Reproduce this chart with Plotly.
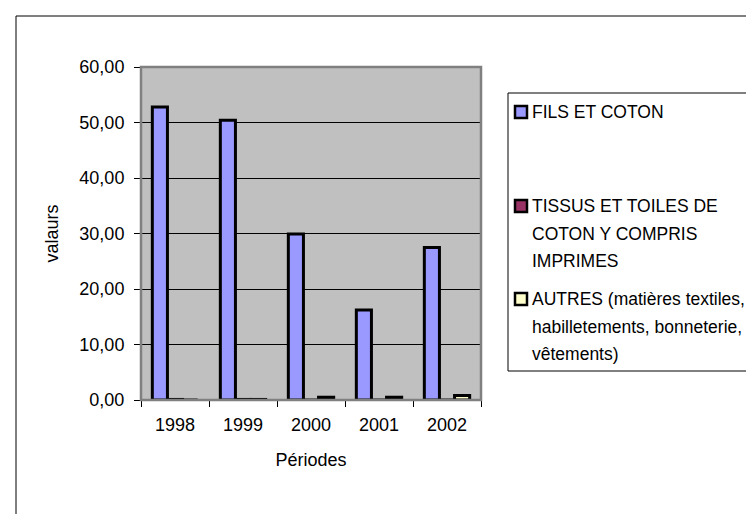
"""Exportations textiles par période - bar chart (Excel style)"""
import plotly.graph_objects as go

# Data
periodes = ["1998", "1999", "2000", "2001", "2002"]
series_names = [
    "FILS ET COTON",
    "TISSUS ET TOILES DE COTON Y COMPRIS IMPRIMES",
    "AUTRES (matières textiles, habilletements, bonneterie, vêtements)",
]
fils_coton = [52.8, 50.4, 29.9, 16.2, 27.5]
tissus_toiles = [0.1, 0.1, 0.0, 0.0, 0.0]
autres = [0.0, 0.1, 0.5, 0.5, 0.8]
y_ticks = [0, 10, 20, 30, 40, 50, 60]

# legend text, split as in the original
legend_lines = [
    ["FILS ET COTON"],
    ["TISSUS ET TOILES DE", "COTON Y COMPRIS", "IMPRIMES"],
    ["AUTRES (matières textiles,", "habilletements, bonneterie,", "vêtements)"],
]

COLORS = ["#9999FF", "#993366", "#FFFFCC"]
FONT = "Liberation Sans, Arial, sans-serif"

W, H = 754, 514
PL, PR, PT, PB = 133, 473, 59, 392  # plot area in page pixels


def px(x):
    return (x - PL) / (PR - PL)


def py(y):
    return (PB - y) / (PB - PT)


fig = go.Figure()
for name, vals, col in zip(series_names, [fils_coton, tissus_toiles, autres], COLORS):
    fig.add_trace(go.Bar(
        x=periodes, y=vals, name=name,
        marker=dict(color=col, line=dict(color="black", width=3)),
        showlegend=False,
    ))

shapes = [
    # plot area frame
    dict(type="rect", xref="paper", yref="paper", x0=0, x1=1, y0=0, y1=1,
         line=dict(color="#808080", width=2.5), layer="above"),
    # outer chart frame (only left and top are visible)
    dict(type="rect", xref="paper", yref="paper", x0=px(8), x1=px(W + 20),
         y0=py(H + 20), y1=py(8), line=dict(color="black", width=1)),
    # legend box
    dict(type="rect", xref="paper", yref="paper", x0=px(500), x1=px(W + 20),
         y0=py(363), y1=py(85), line=dict(color="black", width=1)),
]

annotations = []
entry_tops = [104, 198, 291]
line_h = 27.5
for lines, top, col in zip(legend_lines, entry_tops, COLORS):
    shapes.append(dict(type="rect", xref="paper", yref="paper",
                       x0=px(507), x1=px(519), y0=py(top + 6), y1=py(top - 6),
                       fillcolor=col, line=dict(color="black", width=2.5)))
    for i, txt in enumerate(lines):
        annotations.append(dict(
            text=txt, xref="paper", yref="paper", x=px(523), y=py(top + i * line_h),
            xanchor="left", yanchor="middle", showarrow=False, borderpad=0,
            font=dict(family=FONT, size=17.5, color="black"),
        ))

fig.update_layout(
    width=W, height=H, autosize=False,
    margin=dict(l=PL, r=W - PR, t=PT, b=H - PB),
    paper_bgcolor="white",
    plot_bgcolor="#C0C0C0",
    font=dict(family=FONT, size=18, color="black"),
    separators=", ",
    barmode="group",
    bargap=1.5 / 4.5,
    bargroupgap=0,
    shapes=shapes,
    annotations=annotations,
)

fig.update_xaxes(
    type="category", tickson="boundaries", ticks="outside", ticklen=6,
    tickcolor="black", showline=True, linecolor="black", linewidth=1,
    showgrid=False, ticklabelstandoff=8,
    title=dict(text="Périodes", standoff=19, font=dict(size=18)),
)
fig.update_yaxes(
    range=[0, 60], tickvals=y_ticks, tickformat=".2f", ticks="outside",
    ticklen=6, tickcolor="black", showline=True, linecolor="black",
    showgrid=True, gridcolor="black", gridwidth=1, zeroline=False,
    ticklabelstandoff=6,
    title=dict(text="valaurs", standoff=16, font=dict(size=18)),
)

fig.write_html("out.html")
